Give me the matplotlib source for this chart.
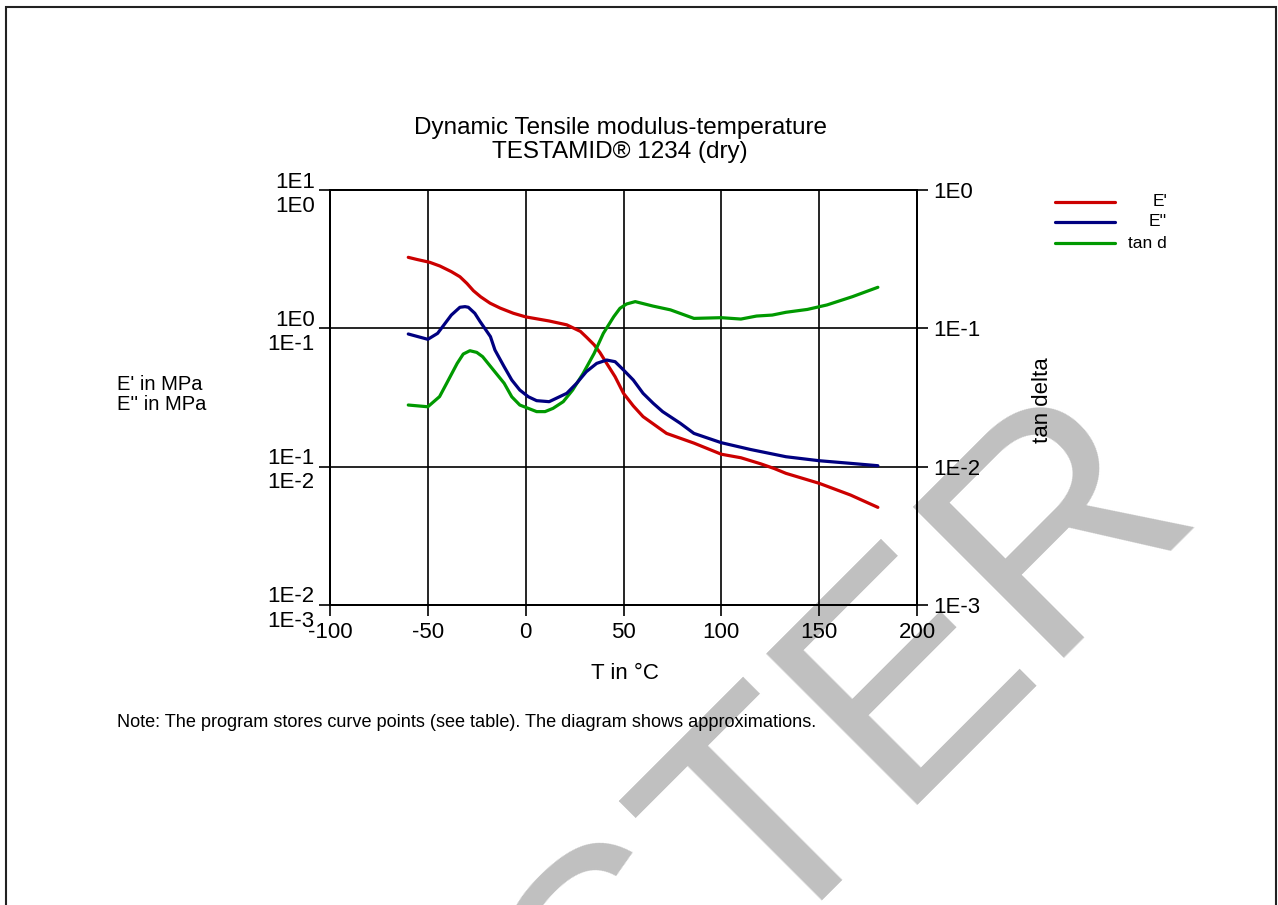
import matplotlib
matplotlib.use("Agg")
import matplotlib.pyplot as plt
from matplotlib.lines import Line2D
from matplotlib.patches import Rectangle

plt.rcParams['font.family'] = ['Liberation Sans', 'DejaVu Sans']
plt.rcParams['axes.unicode_minus'] = False

# ---------------- data ----------------
t_e1 = [-60, -55.7, -49, -43.8, -38, -33.6, -30, -26.7, -23, -18.2, -13, -6.3, 0, 12, 21, 28, 31.2, 35, 38, 41,
        45.7, 50, 55, 60, 72, 86, 100, 110, 120, 127, 133, 150, 166, 180]
e1 = [3.26, 3.15, 3.0, 2.82, 2.57, 2.36, 2.11, 1.87, 1.69, 1.52, 1.40, 1.285, 1.21, 1.13, 1.06, 0.95, 0.86, 0.76,
      0.667, 0.57, 0.447, 0.339, 0.275, 0.23, 0.174, 0.148, 0.123, 0.116, 0.105, 0.097, 0.0895, 0.0758, 0.0624,
      0.0508]

t_e2 = [-60, -50, -45, -38, -33.6, -31, -29.3, -26, -23.3, -18, -15.7, -11, -7.1, -3, 1.4, 5.6, 12, 21, 26, 31,
        36.3, 41.4, 45.7, 50, 55, 60, 65.2, 70, 79, 86, 100, 115, 133, 150, 166, 180]
e2 = [0.091, 0.0833, 0.092, 0.1247, 0.142, 0.1435, 0.142, 0.1285, 0.112, 0.0871, 0.0697, 0.0528, 0.0423, 0.0358,
      0.032, 0.030, 0.0295, 0.0339, 0.040, 0.0486, 0.0558, 0.059, 0.0574, 0.050, 0.0423, 0.0339, 0.0287, 0.025,
      0.0206, 0.0174, 0.0149, 0.0133, 0.0118, 0.01104, 0.01057, 0.01016]

t_tan = [-60, -50, -44, -40.4, -35, -31.9, -28.5, -25, -22, -16.5, -11, -7.1, -3, 5.6, 9.9, 14, 19.2, 24, 29.4, 35,
         39.7, 45, 48.2, 51.6, 56, 65, 74, 86, 100, 110, 118, 126, 133, 144, 154, 167, 180]
tan_d = [0.0279, 0.0271, 0.0321, 0.040, 0.0558, 0.0652, 0.0689, 0.067, 0.0624, 0.050, 0.0401, 0.032, 0.0279,
         0.025, 0.025, 0.0264, 0.0295, 0.0358, 0.0473, 0.0659, 0.092, 0.1213, 0.1396, 0.150, 0.156, 0.1449, 0.136,
         0.118, 0.1194, 0.1167, 0.1227, 0.1247, 0.1306, 0.137, 0.1476, 0.1694, 0.198]

x_ticks = [-100, -50, 0, 50, 100, 150, 200]
left_ticks = [1e1, 1e0, 1e-1, 1e-2]
left_labels = ["1E1\n1E0", "1E0\n1E-1", "1E-1\n1E-2", "1E-2\n1E-3"]
right_ticks = [1e0, 1e-1, 1e-2, 1e-3]
right_labels = ["1E0", "1E-1", "1E-2", "1E-3"]
series_names = ["E'", "E''", "tan d"]
series_colors = ["#cc0000", "#000080", "#009900"]

W, H = 1278, 905
fig = plt.figure(figsize=(W / 100, H / 100), dpi=100)
fig.patch.set_facecolor("white")


def fx(px):
    return px / W


def fy(py):
    return 1 - py / H


# watermark (behind everything)
fig.text(fx(770), fy(946), "TESTER", rotation=45, rotation_mode='anchor', ha='center', va='baseline',
         fontsize=224, color='#c0c0c0', zorder=-5, family='Liberation Sans')

# page frame
fig.add_artist(Rectangle((fx(6), fy(920)), fx(1276) - fx(6), fy(7) - fy(920), fill=False,
                         edgecolor='#222222', lw=1.5, transform=fig.transFigure, zorder=-4))

ax = fig.add_axes([fx(330), fy(605), fx(917) - fx(330), fy(190) - fy(605)])
ax.patch.set_alpha(0)
ax.set_xlim(-100, 200)
ax.set_yscale('log')
ax.set_ylim(1e-2, 1e1)

ax_tan = ax.twinx()
ax_tan.set_yscale('log')
ax_tan.set_ylim(1e-3, 1e0)
ax_tan.patch.set_alpha(0)

ax_e2 = ax.twinx()
ax_e2.set_yscale('log')
ax_e2.set_ylim(1e-3, 1e0)
ax_e2.axis('off')

lw = 2.3
kw = dict(lw=lw, solid_capstyle='round', solid_joinstyle='round', zorder=5)
ax.plot(t_e1, e1, color=series_colors[0], **kw)
ax_e2.plot(t_e2, e2, color=series_colors[1], **kw)
ax_tan.plot(t_tan, tan_d, color=series_colors[2], **kw)

fs = 16
ax.set_xticks(x_ticks)
ax.set_xticklabels([str(v) for v in x_ticks], fontsize=fs)
ax.set_yticks(left_ticks)
ax.set_yticklabels(left_labels, fontsize=fs, linespacing=1.2)
ax.yaxis.set_minor_locator(matplotlib.ticker.NullLocator())
ax.tick_params(axis='x', direction='out', length=8, width=1.2, pad=4)
ax.tick_params(axis='y', direction='out', length=8, width=1.2, pad=3)
ax.grid(True, which='major', color='black', lw=1.2)

ax_tan.set_yticks(right_ticks)
ax_tan.set_yticklabels(right_labels, fontsize=fs)
ax_tan.yaxis.set_minor_locator(matplotlib.ticker.NullLocator())
ax_tan.tick_params(axis='y', direction='out', length=8, width=1.2, pad=4)

for a in (ax, ax_tan):
    for s in a.spines.values():
        s.set_linewidth(1.4)
        s.set_color('black')

# titles and labels
fig.text(fx(620), fy(128), "Dynamic Tensile modulus-temperature", ha='center', va='center', fontsize=17.5)
fig.text(fx(620), fy(152), "TESTAMID® 1234 (dry)", ha='center', va='center', fontsize=17.5)
fig.text(fx(117), fy(384), "E' in MPa", ha='left', va='center', fontsize=14.5)
fig.text(fx(117), fy(404), "E'' in MPa", ha='left', va='center', fontsize=14.5)
fig.text(fx(1043), fy(400), "tan delta", ha='center', va='center', rotation=90, fontsize=16)
fig.text(fx(625), fy(673), "T in °C", ha='center', va='center', fontsize=16)
fig.text(fx(117), fy(722), "Note: The program stores curve points (see table). The diagram shows approximations.",
         ha='left', va='center', fontsize=13.1)

# legend
leg_y = [202, 222, 243]
for name, col, yy in zip(series_names, series_colors, leg_y):
    fig.add_artist(Line2D([fx(1055), fx(1115)], [fy(yy), fy(yy)], color=col, lw=lw,
                          transform=fig.transFigure, solid_capstyle='round'))
    fig.text(fx(1167), fy(yy), name, ha='right', va='center', fontsize=12.5)

fig.savefig("out.png", dpi=100, facecolor='white')
